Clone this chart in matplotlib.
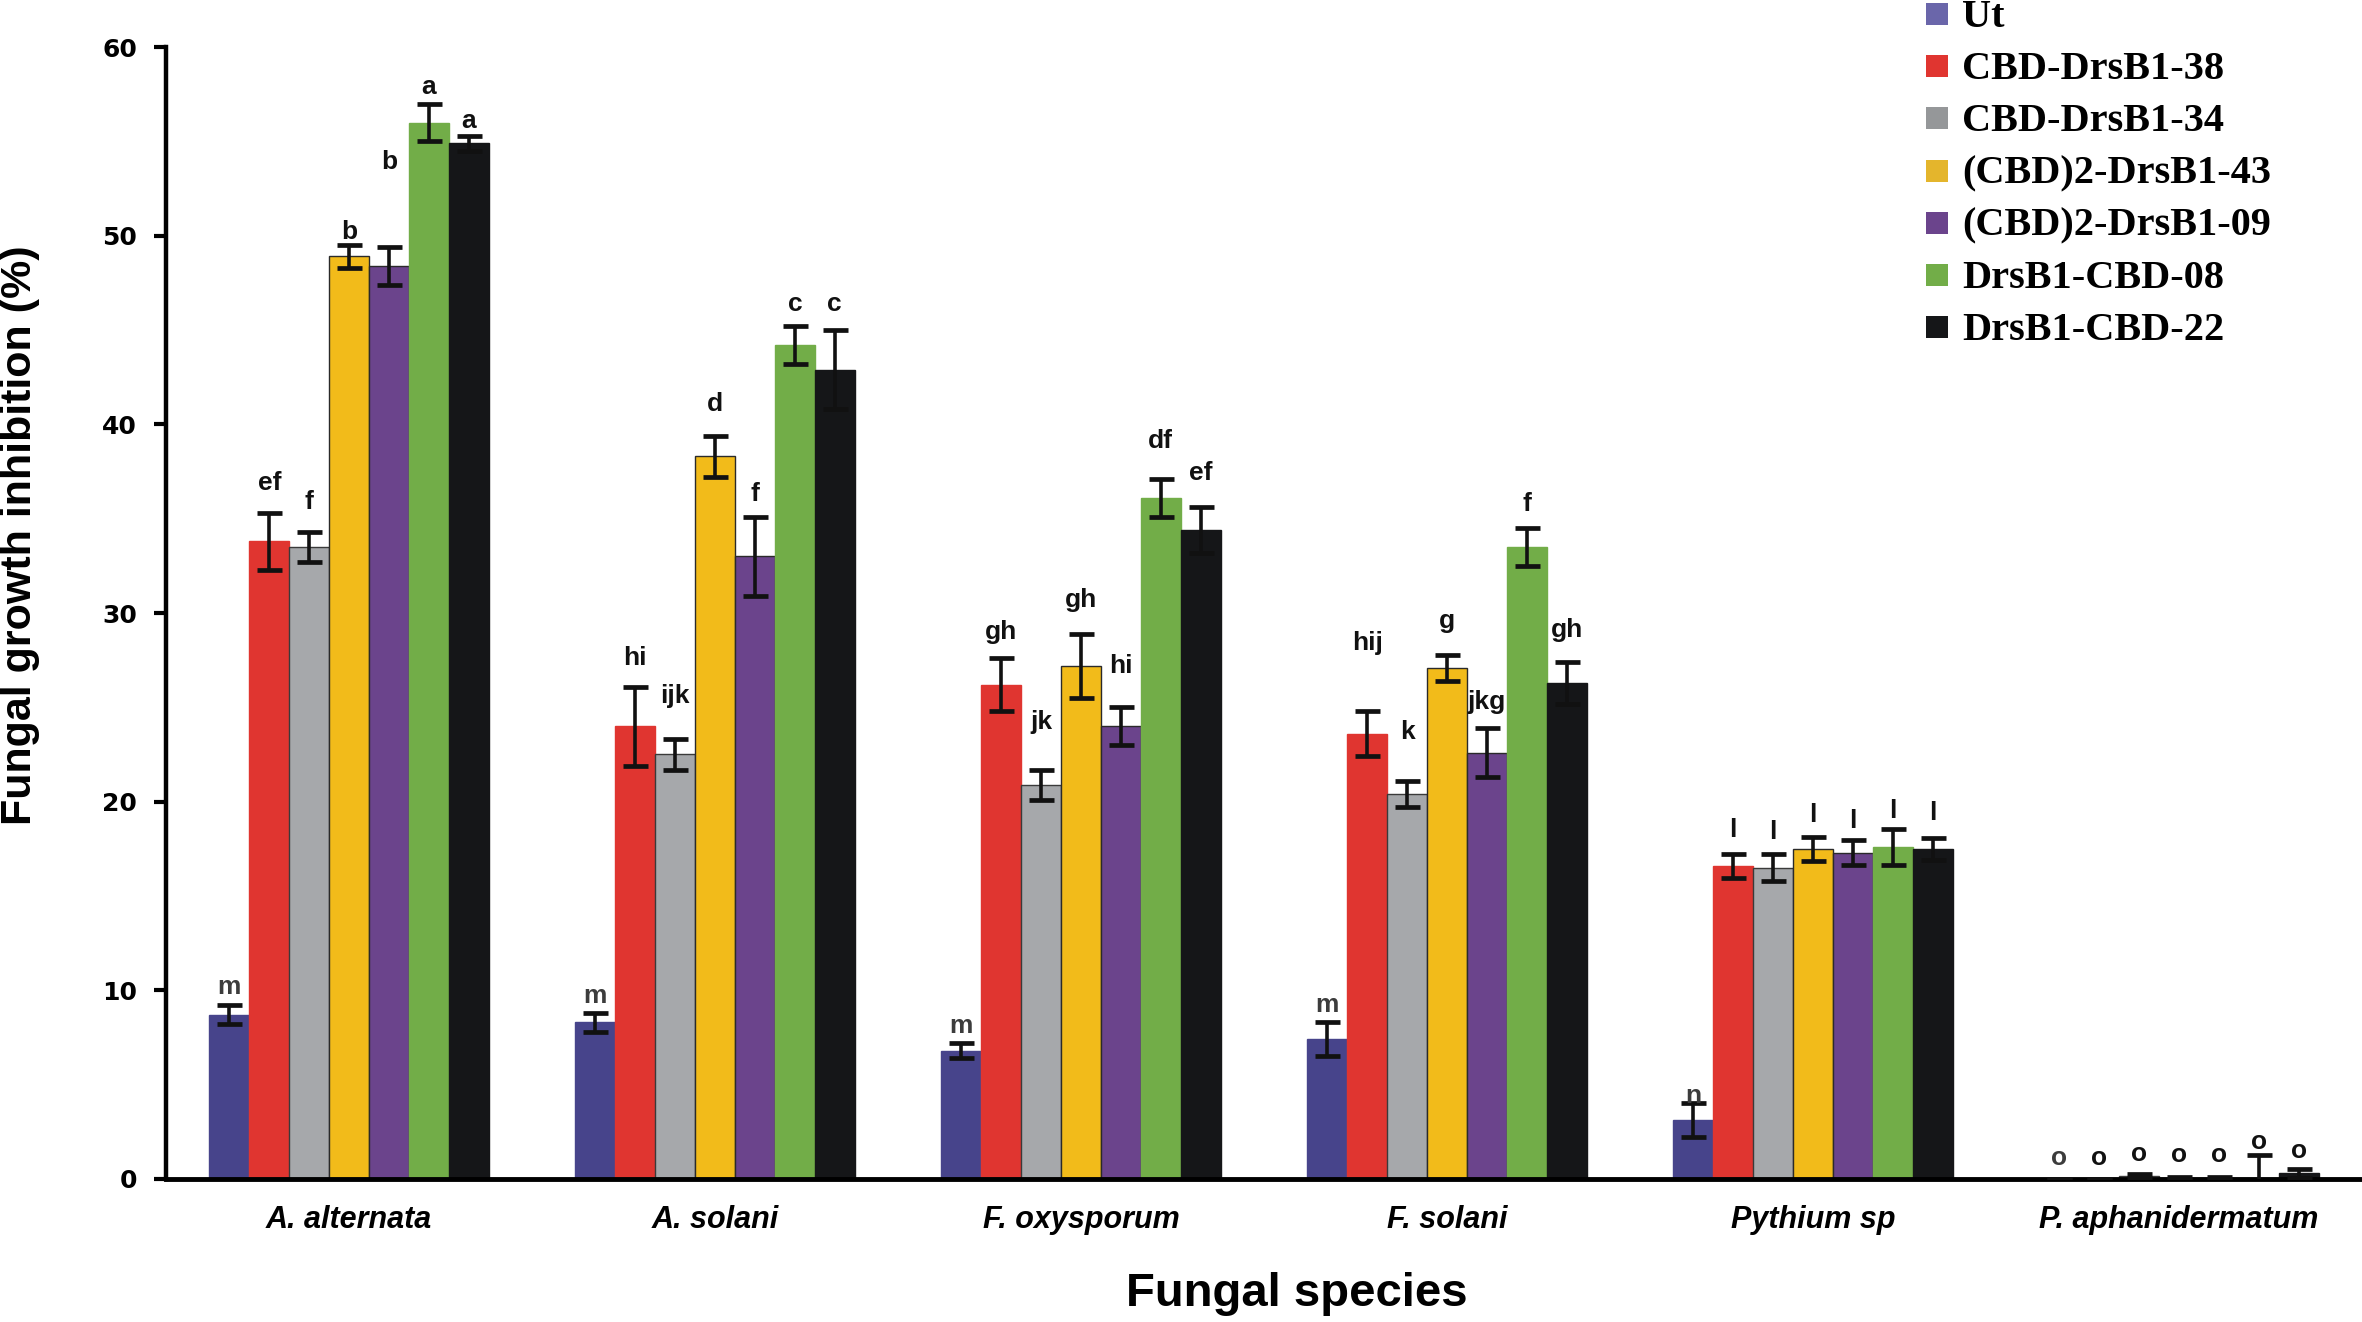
import matplotlib
matplotlib.use("Agg")
import matplotlib.pyplot as plt
import numpy as np
from matplotlib.patches import Rectangle

species = ["A. alternata", "A. solani", "F. oxysporum", "F. solani", "Pythium sp", "P. aphanidermatum"]
series = ["Ut", "CBD-DrsB1-38", "CBD-DrsB1-34", "(CBD)2-DrsB1-43", "(CBD)2-DrsB1-09", "DrsB1-CBD-08", "DrsB1-CBD-22"]

# values per series (across species)
ut      = [8.7, 8.3, 6.8, 7.4, 3.15, 0.0]
cbd38   = [33.8, 24.0, 26.2, 23.6, 16.6, 0.0]
cbd34   = [33.5, 22.5, 20.9, 20.4, 16.5, 0.15]
cbd2_43 = [48.9, 38.3, 27.2, 27.1, 17.5, 0.05]
cbd2_09 = [48.4, 33.0, 24.0, 22.6, 17.3, 0.05]
cbd08   = [56.0, 44.2, 36.1, 33.5, 17.6, 0.05]
cbd22   = [54.9, 42.9, 34.4, 26.3, 17.5, 0.3]

ut_err      = [0.5, 0.5, 0.4, 0.9, 0.9, 0.0]
cbd38_err   = [1.5, 2.1, 1.4, 1.2, 0.64, 0.0]
cbd34_err   = [0.8, 0.8, 0.8, 0.7, 0.7, 0.1]
cbd2_43_err = [0.6, 1.1, 1.7, 0.7, 0.63, 0.07]
cbd2_09_err = [1.0, 2.1, 1.0, 1.3, 0.68, 0.07]
cbd08_err   = [1.0, 1.0, 1.0, 1.0, 0.97, 1.2]
cbd22_err   = [0.4, 2.1, 1.2, 1.1, 0.6, 0.25]

ut_letters      = ["m", "m", "m", "m", "n", "o"]
cbd38_letters   = ["ef", "hi", "gh", "hij", "l", "o"]
cbd34_letters   = ["f", "ijk", "jk", "k", "l", "o"]
cbd2_43_letters = ["b", "d", "gh", "g", "l", "o"]
cbd2_09_letters = ["b", "f", "hi", "jkg", "l", "o"]
cbd08_letters   = ["a", "c", "df", "f", "l", "o"]
cbd22_letters   = ["a", "c", "ef", "gh", "l", "o"]

ut_letter_y      = [10.2, 9.7, 8.1, 9.2, 4.4, 1.1]
cbd38_letter_y   = [36.9, 27.6, 29.0, 28.4, 18.5, 1.1]
cbd34_letter_y   = [35.9, 25.6, 24.2, 23.7, 18.4, 1.33]
cbd2_43_letter_y = [50.2, 41.1, 30.7, 29.6, 19.3, 1.25]
cbd2_09_letter_y = [53.9, 36.3, 27.2, 25.3, 19.0, 1.25]
cbd08_letter_y   = [57.9, 46.4, 39.1, 35.8, 19.5, 1.95]
cbd22_letter_y   = [56.1, 46.4, 37.4, 29.1, 19.4, 1.46]

yticks = [0, 10, 20, 30, 40, 50, 60]

values = [ut, cbd38, cbd34, cbd2_43, cbd2_09, cbd08, cbd22]
errors = [ut_err, cbd38_err, cbd34_err, cbd2_43_err, cbd2_09_err, cbd08_err, cbd22_err]
letters = [ut_letters, cbd38_letters, cbd34_letters, cbd2_43_letters, cbd2_09_letters, cbd08_letters, cbd22_letters]
letter_y = [ut_letter_y, cbd38_letter_y, cbd34_letter_y, cbd2_43_letter_y, cbd2_09_letter_y, cbd08_letter_y, cbd22_letter_y]

colors = ["#47448b", "#e03530", "#a6a8ab", "#f2bb1a", "#6b448c", "#72ad48", "#151618"]
edgecolors = ["#47448b", "#e03530", "#3a3a3a", "#2a2a2a", "#2a2a2a", "#72ad48", "#151618"]
legend_colors = ["#6a66aa", "#e03530", "#959799", "#e4b52c", "#6b448c", "#72ad48", "#151618"]
letter_colors = ["#3c3c3c", "#111111", "#111111", "#111111", "#111111", "#111111", "#111111"]

sans = ["Liberation Sans", "DejaVu Sans"]

W, H = 2362, 1322
fig = plt.figure(figsize=(W / 100, H / 100), dpi=100)
ax = fig.add_axes([0.0703, 0.1082, 0.9297, 0.8562])

x = np.arange(len(species))
w = 0.109
for i, (vals, errs) in enumerate(zip(values, errors)):
    pos = x + (i - 3) * w
    ax.bar(pos, vals, width=w, color=colors[i], edgecolor=edgecolors[i], linewidth=1.0, zorder=2)
    ax.errorbar(pos, vals, yerr=errs, fmt="none", ecolor="#111111", elinewidth=2.6,
                capsize=9, capthick=3.4, zorder=3)
    for j in range(len(species)):
        ax.text(pos[j], letter_y[i][j], letters[i][j], ha="center", va="center",
                fontsize=19, fontweight="bold", family=sans, color=letter_colors[i])

ax.set_xlim(-0.5, 5.5)
ax.set_ylim(0, 60)
ax.set_yticks(yticks)
ax.set_yticklabels([str(t) for t in yticks], fontsize=18, fontweight="bold", family="DejaVu Sans")
ax.set_xticks(x)
ax.set_xticklabels(species, fontsize=22, fontweight="bold", style="italic", family=sans)
ax.tick_params(axis="x", length=0, pad=19)
ax.tick_params(axis="y", length=9, width=3, pad=12, direction="out")
for s in ["top", "right"]:
    ax.spines[s].set_visible(False)
ax.spines["left"].set_linewidth(3.2)
ax.spines["bottom"].set_linewidth(3.5)

fig.text(1297 / W, 1 - 1294 / H, "Fungal species", ha="center", va="center",
         fontsize=34, fontweight="bold", family=sans)
fig.text(20 / W, 1 - 535 / H, "Fungal growth inhibition (%)", ha="center", va="center",
         rotation=90, fontsize=31, fontweight="bold", family=sans)

# legend (top right), rows spaced evenly
row0, dy = 14, 52.2
for i, name in enumerate(series):
    yc = row0 + dy * i
    fig.patches.append(Rectangle((1926 / W, 1 - (yc + 11) / H), 22 / W, 22 / H,
                                 transform=fig.transFigure, facecolor=legend_colors[i],
                                 edgecolor="none", figure=fig))
    fig.text(1962 / W, 1 - (yc + 13) / H, name, ha="left", va="baseline",
             fontsize=29, fontweight="bold", family=["Liberation Serif", "DejaVu Serif"])

fig.savefig("out.png", dpi=100)
